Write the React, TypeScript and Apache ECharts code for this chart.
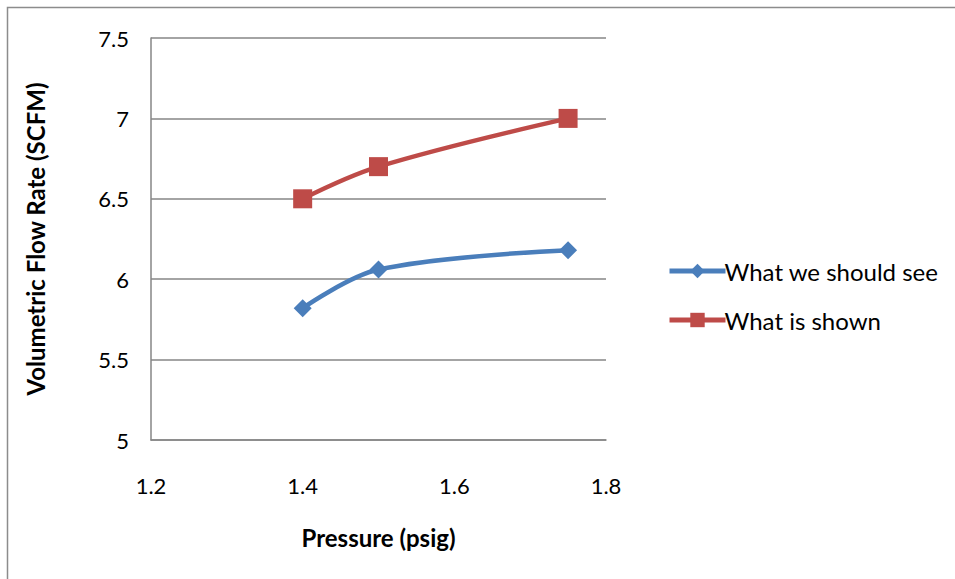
import React, { useEffect, useRef } from "react";
import * as echarts from "echarts";

const pressure = [1.4, 1.5, 1.75];
const shouldSee = [5.82, 6.06, 6.18];
const isShown = [6.5, 6.7, 7.0];
const seriesNames = ["What we should see", "What is shown"];
const xTitle = "Pressure (psig)";
const yTitle = "Volumetric Flow Rate (SCFM)";

const FONT = "Lato, 'Open Sans', sans-serif";

export default function App() {
  const ref = useRef<HTMLDivElement>(null);
  useEffect(() => {
    if (!ref.current) return;
    const chart = echarts.init(ref.current, null, { renderer: "svg" });
    chart.setOption({
      animation: false,
      backgroundColor: "#ffffff",
      textStyle: { fontFamily: FONT },
      graphic: [
        {
          type: "rect",
          shape: { x: 7.5, y: 7.5, width: 1000, height: 700 },
          style: { fill: "none", stroke: "#8c8c8c", lineWidth: 1.5 },
          silent: true,
        },
      ],
      grid: { left: 151, top: 38, width: 455, height: 402, containLabel: false },
      legend: {
        orient: "vertical",
        left: 662,
        top: 254,
        itemWidth: 56,
        itemHeight: 18,
        itemGap: 25,
        lineStyle: { width: 5 },
        textStyle: { fontFamily: FONT, fontSize: 24, color: "#000", padding: [0, 0, 0, -6] },
        data: seriesNames,
      },
      xAxis: {
        type: "value",
        min: 1.2,
        max: 1.8,
        interval: 0.2,
        name: xTitle,
        nameLocation: "middle",
        nameGap: 85,
        nameTextStyle: { fontFamily: FONT, fontSize: 24, fontWeight: "bold", color: "#000" },
        axisLine: { show: true, lineStyle: { color: "#868686", width: 1.5 } },
        axisTick: { show: false },
        splitLine: { show: false },
        axisLabel: {
          fontFamily: FONT,
          fontSize: 22,
          color: "#000",
          margin: 34,
          formatter: (v: number) => String(Math.round(v * 10) / 10),
        },
      },
      yAxis: {
        type: "value",
        min: 5,
        max: 7.5,
        interval: 0.5,
        name: yTitle,
        nameLocation: "middle",
        nameGap: 104,
        nameRotate: 90,
        nameTextStyle: { fontFamily: FONT, fontSize: 24, fontWeight: "bold", color: "#000" },
        axisLine: { show: true, lineStyle: { color: "#868686", width: 1.5 } },
        axisTick: { show: false },
        splitLine: { show: true, lineStyle: { color: "#868686", width: 1.5 } },
        axisLabel: {
          fontFamily: FONT,
          fontSize: 22,
          color: "#000",
          margin: 22,
          formatter: (v: number) => String(v),
        },
      },
      series: [
        {
          name: seriesNames[0],
          type: "line",
          data: pressure.map((p, i) => [p, shouldSee[i]]),
          smooth: 0.35,
          symbol: "diamond",
          symbolSize: 18,
          lineStyle: { color: "#4a7ebb", width: 4.5 },
          itemStyle: { color: "#4a7ebb" },
        },
        {
          name: seriesNames[1],
          type: "line",
          data: pressure.map((p, i) => [p, isShown[i]]),
          smooth: 0.35,
          symbol: "rect",
          symbolSize: 19,
          lineStyle: { color: "#be4b48", width: 4.5 },
          itemStyle: { color: "#be4b48" },
        },
      ],
    });
    return () => chart.dispose();
  }, []);
  return (
    <div
      ref={ref}
      style={{ position: "fixed", left: 0, top: 0, width: 955, height: 579 }}
    />
  );
}
